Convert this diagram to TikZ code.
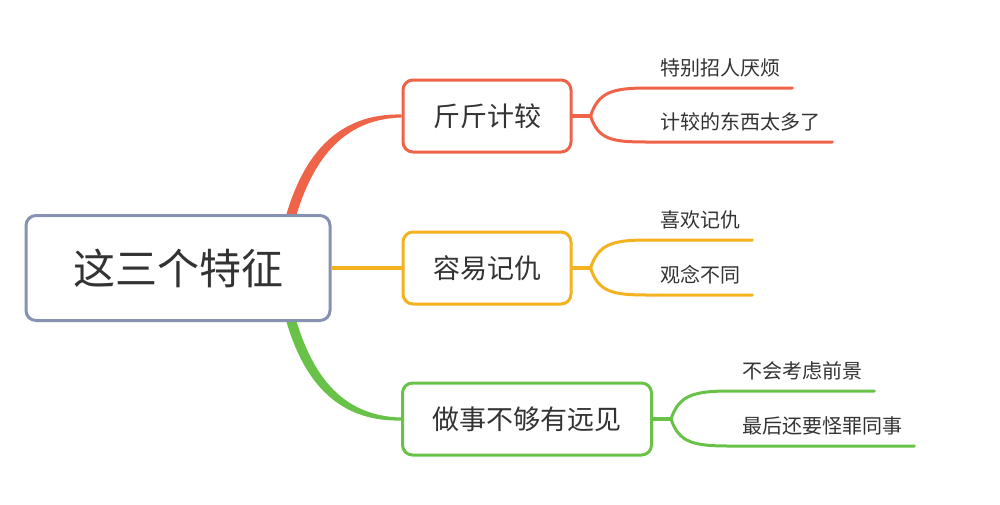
\documentclass[tikz,border=0pt]{standalone}
\usepackage{fontspec}
\newfontfamily\cjk{Noto Sans CJK SC}
\usetikzlibrary{backgrounds}
\definecolor{rootc}{RGB}{133,146,178}
\definecolor{redc}{RGB}{239,99,72}
\definecolor{yelc}{RGB}{244,178,30}
\definecolor{grnc}{RGB}{104,194,72}
\definecolor{txtc}{RGB}{51,51,51}

\begin{document}
\begin{tikzpicture}
        [
            x = 1pt, y = -1pt,
            root/.style = {draw = rootc, line width = 3pt, rounded corners = 10pt, fill = white,
                minimum width = 304pt, minimum height = 105pt, text = txtc,
                font = \cjk\fontsize{42}{48}\selectfont},
            topic/.style = {draw = #1, line width = 3pt, rounded corners = 10pt, fill = white,
                minimum height = 72pt, inner xsep = 30pt, text = txtc,
                font = \cjk\fontsize{27}{32}\selectfont},
            leaf/.style = {anchor = south west, inner xsep = 12pt, inner ysep = 11pt, text = txtc,
                font = \cjk\fontsize{20}{24}\selectfont},
            fork/.style = {draw = #1, line width = 3pt, line cap = round}
        ]
        \useasboundingbox (0,0) rectangle (1000,504);

        \node[root] (root) at (178,268) {这三个特征};
        \node[topic = redc] (t1) at (487,116) {斤斤计较};
        \node[topic = yelc] (t2) at (487,268) {容易记仇};
        \node[topic = grnc] (t3) at (527,419) {做事不够有远见};

        \coordinate (f1) at ([xshift = 18pt]t1.east);
        \coordinate (f2) at ([xshift = 18pt]t2.east);
        \coordinate (f3) at ([xshift = 18pt]t3.east);

        \node[leaf] (l11) at (648,88) {特别招人厌烦};
        \node[leaf] (l12) at (648,142) {计较的东西太多了};
        \node[leaf] (l21) at (648,240) {喜欢记仇};
        \node[leaf] (l22) at (648,295) {观念不同};
        \node[leaf] (l31) at (730,391) {不会考虑前景};
        \node[leaf] (l32) at (730,446) {最后还要怪罪同事};

        \begin{scope}[on background layer]
            \fill[white] (0,0) rectangle (1000,504);
            % tapered main branches
            \fill[redc] ([shift = {(-48,11)}]root.north east) .. controls +(17,-67) and +(-66,-1.5) ..
                ([shift = {(0,-1.5)}]t1.west) -- ([shift = {(0,1.5)}]t1.west) .. controls +(-60,1.5) and +(17,-63) ..
                ([shift = {(-38,11)}]root.north east) -- cycle;
            \fill[grnc] ([shift = {(-48,-11)}]root.south east) .. controls +(17,67) and +(-66,1.5) ..
                ([shift = {(0,1.5)}]t3.west) -- ([shift = {(0,-1.5)}]t3.west) .. controls +(-60,-1.5) and +(17,63) ..
                ([shift = {(-38,-11)}]root.south east) -- cycle;
            \draw[yelc, line width = 4pt] (root.east) -- (t2.west);
        \end{scope}

        \draw[fork = redc, line width = 4pt] (t1.east) -- (f1);
        \draw[fork = redc] (f1) .. controls +(8,-24) and +(-36,0) .. (l11.south west) -- (l11.south east);
        \draw[fork = redc] (f1) .. controls +(8,24) and +(-36,0) .. (l12.south west) -- (l12.south east);
        \draw[fork = yelc, line width = 4pt] (t2.east) -- (f2);
        \draw[fork = yelc] (f2) .. controls +(8,-24) and +(-36,0) .. (l21.south west) -- (l21.south east);
        \draw[fork = yelc] (f2) .. controls +(8,24) and +(-36,0) .. (l22.south west) -- (l22.south east);
        \draw[fork = grnc, line width = 4pt] (t3.east) -- (f3);
        \draw[fork = grnc] (f3) .. controls +(8,-24) and +(-36,0) .. (l31.south west) -- (l31.south east);
        \draw[fork = grnc] (f3) .. controls +(8,24) and +(-36,0) .. (l32.south west) -- (l32.south east);
\end{tikzpicture}
\end{document}
